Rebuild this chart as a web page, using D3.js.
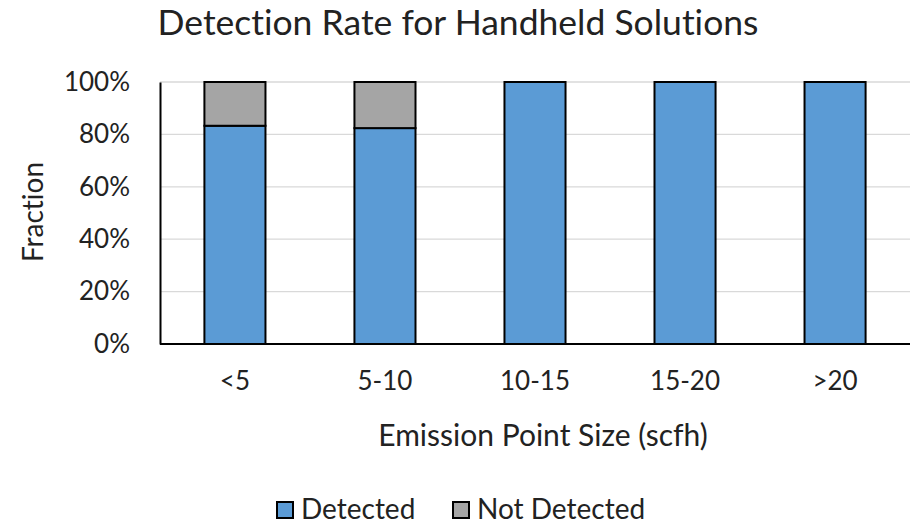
<!DOCTYPE html>
<html>
<head>
<meta charset="utf-8">
<script src="https://cdn.jsdelivr.net/npm/d3@7"></script>
<style>
  html, body { margin: 0; padding: 0; background: #fff; }
  svg { display: block; font-family: Lato, "Open Sans", sans-serif; font-variant-ligatures: none; }
</style>
</head>
<body>
<svg id="chart" width="912" height="524"></svg>
<script>
// Emission size bins and detection fractions
const categories = ["<5", "5-10", "10-15", "15-20", ">20"];
const detected = [0.833, 0.824, 1.0, 1.0, 1.0];
const notDetected = [0.167, 0.176, 0.0, 0.0, 0.0];
const seriesNames = ["Detected", "Not Detected"];
const yTicks = [0, 0.2, 0.4, 0.6, 0.8, 1.0];

const colors = { "Detected": "#5b9bd5", "Not Detected": "#a5a5a5" };

const svg = d3.select("#chart");
const margin = { left: 160, right: 2 };
const W = 912;

const x = d3.scaleBand().domain(categories).range([margin.left, W - margin.right]).paddingInner(0.593).paddingOuter(0.296);
const y = d3.scaleLinear().domain([0, 1]).range([344, 82]);

// Gridlines
svg.append("g").selectAll("line").data(yTicks.filter(t => t > 0)).join("line")
  .attr("x1", margin.left).attr("x2", W - margin.right)
  .attr("y1", d => y(d)).attr("y2", d => y(d))
  .attr("stroke", "#d9d9d9").attr("stroke-width", 1.3);

// Stacked bars
const rows = categories.map((c, i) => ({ cat: c, "Detected": detected[i], "Not Detected": notDetected[i] }));
const stack = d3.stack().keys(seriesNames)(rows);

svg.append("g").selectAll("g").data(stack).join("g")
  .attr("fill", d => colors[d.key])
  .selectAll("rect").data(d => d.filter(s => s[1] - s[0] > 0)).join("rect")
  .attr("x", d => x(d.data.cat))
  .attr("width", x.bandwidth())
  .attr("y", d => y(d[1]))
  .attr("height", d => y(d[0]) - y(d[1]))
  .attr("stroke", "#000").attr("stroke-width", 2);

// Y axis
const yAxis = svg.append("g").attr("transform", `translate(${margin.left},0)`)
  .call(d3.axisLeft(y).tickValues(yTicks).tickFormat(d3.format(".0%")).tickSize(0).tickPadding(30));
yAxis.select(".domain").attr("stroke", "#000").attr("stroke-width", 2);
yAxis.selectAll("text").attr("font-size", 26).attr("fill", "#222").attr("font-family", "Lato, sans-serif");

// X axis
const xAxis = svg.append("g").attr("transform", `translate(0,344)`)
  .call(d3.axisBottom(x).tickSize(0).tickPadding(28));
xAxis.select(".domain").attr("stroke", "#000").attr("stroke-width", 2).attr("d", `M${margin.left},0H${W - margin.right}`);
xAxis.selectAll("text").attr("font-size", 26).attr("fill", "#222").attr("font-family", "Lato, sans-serif");

// Titles
svg.append("text").attr("x", 458).attr("y", 35).attr("text-anchor", "middle")
  .attr("font-size", 35.5).attr("fill", "#222").text("Detection Rate for Handheld Solutions");
svg.append("text").attr("x", 543).attr("y", 446).attr("text-anchor", "middle")
  .attr("font-size", 30).attr("fill", "#222").text("Emission Point Size (scfh)");
svg.append("text").attr("transform", "translate(43,212) rotate(-90)").attr("text-anchor", "middle")
  .attr("font-size", 28).attr("fill", "#222").text("Fraction");

// Legend
const legendX = [277, 453];
const lg = svg.append("g").selectAll("g").data(seriesNames).join("g")
  .attr("transform", (d, i) => `translate(${legendX[i]},502)`);
lg.append("rect").attr("width", 16).attr("height", 16)
  .attr("fill", d => colors[d]).attr("stroke", "#000").attr("stroke-width", 2);
lg.append("text").attr("x", 24).attr("y", 17).attr("font-size", 28).attr("fill", "#222").text(d => d);
</script>
</body>
</html>
